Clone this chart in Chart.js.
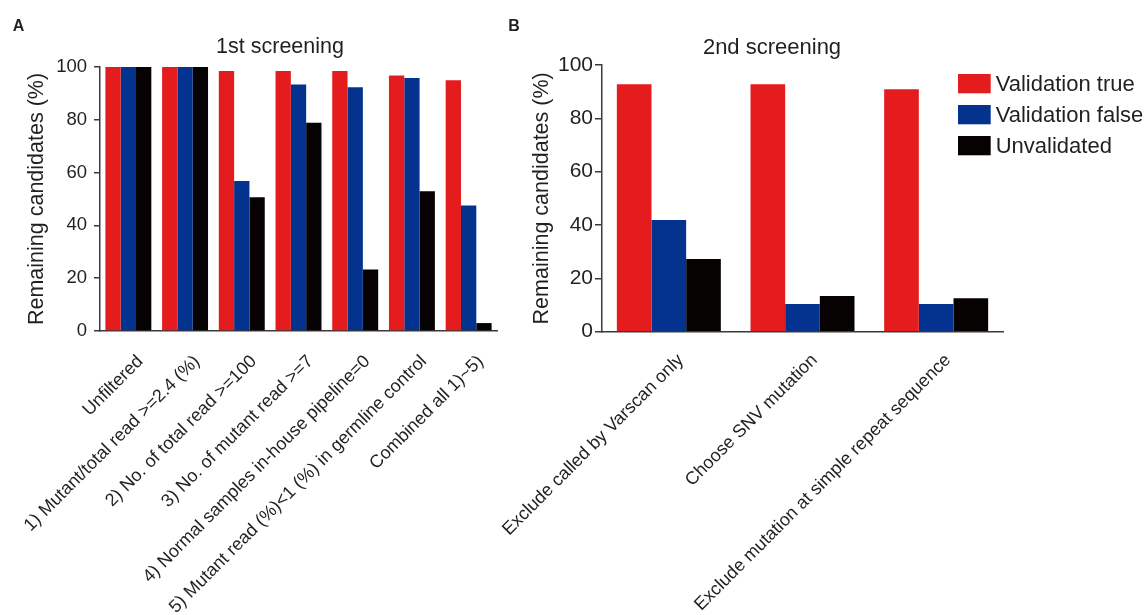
<!DOCTYPE html>
<html><head><meta charset="utf-8">
<script src="https://cdn.jsdelivr.net/npm/chart.js@4.4.0/dist/chart.umd.min.js"></script>
<style>
html,body{margin:0;padding:0;background:#fff;width:1146px;height:615px;overflow:hidden;position:relative;}
canvas{position:absolute;top:0;}
#cA{left:0;}
#cB{left:420px;}
</style></head><body>
<canvas id="cA" width="510" height="615"></canvas>
<canvas id="cB" width="726" height="615"></canvas>
<script>
// ---- data ----
const seriesNames = ['Validation true', 'Validation false', 'Unvalidated'];

const categoriesA = [
  'Unfiltered',
  '1) Mutant/total read >=2.4 (%)',
  '2) No. of total read >=100',
  '3) No. of mutant read >=7',
  '4) Normal samples in-house pipeline=0',
  '5) Mutant read (%)<1 (%) in germline control',
  'Combined all 1)~5)'
];
const validTrueA  = [100, 100, 98.5, 98.5, 98.5, 96.8, 95.0];
const validFalseA = [100, 100, 56.8, 93.4, 92.3, 95.8, 47.5];
const unvalidA    = [100, 100, 50.7, 78.9, 23.3, 52.9, 3.0];

const categoriesB = [
  'Exclude called by Varscan only',
  'Choose SNV mutation',
  'Exclude mutation at simple repeat sequence'
];
const validTrueB  = [92.8, 92.8, 90.9];
const validFalseB = [41.9, 10.4, 10.4];
const unvalidB    = [27.3, 13.4, 12.5];

const yTickValues = [0, 20, 40, 60, 80, 100];
const yAxisTitle = 'Remaining candidates (%)';
const titleA = '1st screening';
const titleB = '2nd screening';
const letterA = 'A';
const letterB = 'B';

// ---- styles ----
const COLORS = ['#E41C1D', '#04338F', '#070202'];
const TEXT = '#231F20';
const AXIS = '#3a3a3a';
const FAMILY = '"Liberation Sans", Arial, Helvetica, sans-serif';

const annotPlugin = {
  id: 'annot',
  afterDraw(chart, args, o) {
    const ctx = chart.ctx;
    ctx.save();
    ctx.textBaseline = 'middle';
    (o.texts || []).forEach(t => {
      ctx.font = t.font;
      ctx.fillStyle = TEXT;
      ctx.textAlign = t.align || 'center';
      ctx.fillText(t.text, t.x, t.y);
    });
    if (o.legend) {
      const L = o.legend;
      chart.data.datasets.forEach((ds, i) => {
        const y = L.y + i * L.gap;
        ctx.fillStyle = ds.backgroundColor;
        ctx.fillRect(L.x, y, L.w, L.h);
        ctx.fillStyle = TEXT;
        ctx.font = L.font;
        ctx.textAlign = 'left';
        ctx.fillText(ds.label, L.x + L.w + L.pad, y + L.h / 2 + 1);
      });
    }
    ctx.restore();
  }
};

function makeChart(id, cats, series, cfg) {
  return new Chart(document.getElementById(id), {
    type: 'bar',
    data: {
      labels: cats,
      datasets: series.map((vals, i) => ({
        label: seriesNames[i],
        data: vals,
        backgroundColor: COLORS[i],
        borderWidth: 0,
        barPercentage: 1.0,
        categoryPercentage: cfg.catPct
      }))
    },
    options: {
      responsive: false,
      animation: false,
      layout: { padding: { top: cfg.top, right: cfg.right, left: 0, bottom: 0 } },
      plugins: {
        legend: { display: false },
        title: { display: false },
        tooltip: { enabled: false },
        annot: cfg.annot
      },
      scales: {
        x: {
          grid: { display: false, drawTicks: false },
          border: { display: true, color: AXIS, width: 1.5 },
          ticks: {
            minRotation: 45, maxRotation: 45, autoSkip: false,
            padding: cfg.xPad, labelOffset: cfg.xOff,
            color: TEXT, font: { family: FAMILY, size: 18 }
          },
          afterFit(s) { s.height = 615 - cfg.bottom; }
        },
        y: {
          min: 0, max: 100,
          afterBuildTicks(s) { s.ticks = yTickValues.map(v => ({ value: v })); },
          grid: { drawOnChartArea: false, drawTicks: true, tickLength: cfg.tickLen, color: AXIS, lineWidth: 1.5 },
          border: { display: true, color: AXIS, width: 1.5 },
          ticks: { padding: cfg.yPad, color: TEXT, font: { family: FAMILY, size: cfg.yFont } },
          title: {
            display: true, text: yAxisTitle, color: TEXT,
            font: { family: FAMILY, size: 21.5 },
            padding: { top: cfg.yTitlePad, bottom: 0 }
          },
          afterFit(s) { s.width = cfg.yWidth; }
        }
      }
    },
    plugins: [annotPlugin]
  });
}

makeChart('cA', categoriesA, [validTrueA, validFalseA, unvalidA], {
  catPct: 0.81, top: 67, right: 13, bottom: 331, yWidth: 100,
  tickLen: 6, yPad: 7, yFont: 18.5, yTitlePad: 24.6, xPad: 20, xOff: 12,
  annot: {
    texts: [
      { text: titleA, x: 280, y: 47, font: '21.5px ' + FAMILY },
      { text: letterA, x: 18.5, y: 27, font: 'bold 16px ' + FAMILY }
    ]
  }
});

makeChart('cB', categoriesB, [validTrueB, validFalseB, unvalidB], {
  catPct: 0.778, top: 65, right: 143, bottom: 331.7, yWidth: 182,
  tickLen: 7, yPad: 2, yFont: 21, yTitlePad: 109, xPad: 18, xOff: 12,
  annot: {
    texts: [
      { text: titleB, x: 352, y: 48, font: '22px ' + FAMILY },
      { text: letterB, x: 94, y: 27, font: 'bold 16px ' + FAMILY }
    ],
    legend: { x: 538, y: 74, w: 32.7, h: 19.3, gap: 31, pad: 5, font: '22px ' + FAMILY }
  }
});
</script>
</body></html>
